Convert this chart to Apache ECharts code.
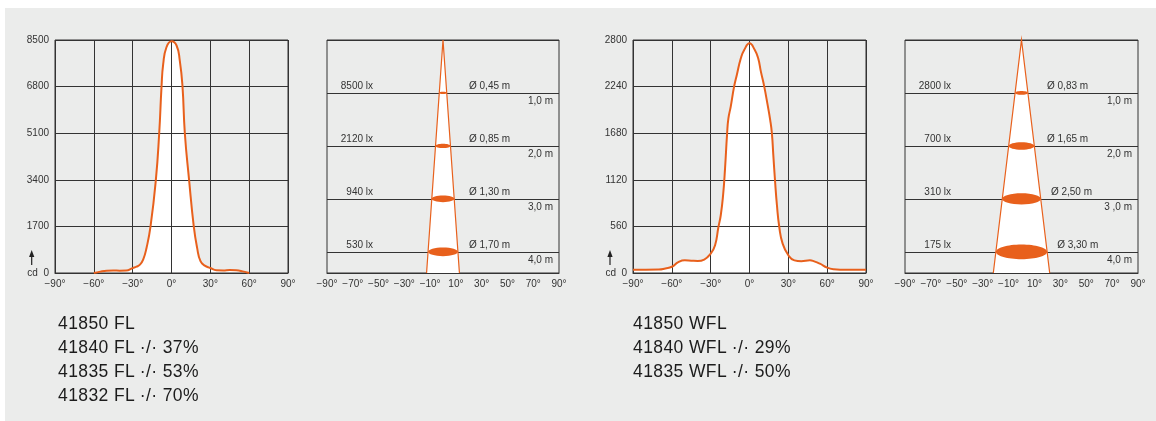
<!DOCTYPE html>
<html>
<head>
<meta charset="utf-8">
<script src="https://cdn.jsdelivr.net/npm/echarts@6/dist/echarts.min.js"></script>
<style>
  html, body { margin: 0; padding: 0; background: #fff; }
  #wrap { position: relative; width: 1156px; height: 421px; overflow: hidden; }
  #panel { position: absolute; left: 5px; top: 8px; right: 0; bottom: 0; background: #ebeceb; }
  #chart { position: absolute; left: 0; top: 0; width: 1156px; height: 421px; }
  .models { position: absolute; top: 311px; font: 17.5px "Liberation Sans", Arial, sans-serif; letter-spacing: 0.4px; line-height: 24px; color: #1c1c1c; }
</style>
</head>
<body>
<div id="wrap">
  <div id="panel"></div>
  <div id="chart"></div>
  <div class="models" id="modelsFL" style="left:58px"></div>
  <div class="models" id="modelsWFL" style="left:633px"></div>
</div>
<script>
// luminous intensity curves (angle in degrees, candela)
const flAngle = [-60, -55, -50, -45, -40, -35, -30, -27, -24.4, -21.9, -19.3, -16.2, -12.1, -9.5, -7.7, -6.4, -3.9, 0,
  3.9, 6.4, 8.5, 10.3, 13.6, 17.2, 19.8, 22.4, 25.7, 30, 34.7, 40, 45, 50, 55, 60];
const flCd = [0, 50, 85, 95, 85, 90, 180, 230, 305, 490, 915, 1700, 3390, 5100, 6800, 7625, 8235, 8450,
  8300, 7750, 6800, 5100, 3390, 1700, 915, 430, 268, 183, 100, 95, 110, 100, 60, 0];

const wflAngle = [-90, -80, -70, -65, -60, -55, -50, -45, -40, -35, -30, -26.6, -24, -22.2, -20.4, -18.9, -17.3, -16.3,
  -14.5, -11.9, -9.8, -6.7, -4.1, 0, 4.1, 6.7, 8.8, 11.4, 14, 16, 17.3, 18.4, 19.7, 21.2, 23, 25.6, 30, 34.7, 40,
  46.7, 50, 54.4, 60, 65, 70, 80, 90];
const wflCd = [40, 40, 42, 55, 75, 130, 152, 148, 145, 162, 233, 333, 553, 694, 935, 1255, 1677, 1857,
  2000, 2240, 2380, 2580, 2680, 2760, 2680, 2580, 2420, 2240, 2020, 1837, 1677, 1416, 1115, 814, 553, 353, 213, 152, 142,
  152, 140, 112, 65, 45, 40, 40, 40];

// beam diagrams: distance, illuminance, beam diameter
const beamDepth = [1, 2, 3, 4];
const flLux = [8500, 2120, 940, 530];
const flDiam = [0.45, 0.85, 1.30, 1.70];
const flDepthLabels = ["1,0 m", "2,0 m", "3,0 m", "4,0 m"];
const wflLux = [2800, 700, 310, 175];
const wflDiam = [0.83, 1.65, 2.50, 3.30];
const wflDepthLabels = ["1,0 m", "2,0 m", "3 ,0 m", "4,0 m"];

const flModels = ["41850 FL", "41840 FL ·/· 37%", "41835 FL ·/· 53%", "41832 FL ·/· 70%"];
const wflModels = ["41850 WFL", "41840 WFL ·/· 29%", "41835 WFL ·/· 50%"];

document.getElementById("modelsFL").innerHTML = flModels.map((t) => `<div>${t}</div>`).join("");
document.getElementById("modelsWFL").innerHTML = wflModels.map((t) => `<div>${t}</div>`).join("");

const ORANGE = "#e8601c";
const LINE = "#333";
const TEXT = "#333";
const NARROW = '"Liberation Sans Narrow", "Liberation Sans", Arial, sans-serif';
const SMALL_FONT = `10px ${NARROW}`;
const DEPTH_MAX = 4.4;

const degLabel = (v) => (v < 0 ? "\u2212" + Math.abs(v) : v) + "°";
const pairs = (xs, ys) => xs.map((x, i) => [x, ys[i]]);

function angleAxis(gridIndex, interval){
  return {
    gridIndex, type: "value", min: -90, max: 90, interval,
    axisLine: { show: true, onZero: false, lineStyle: { color: LINE, width: 1 } },
    axisTick: { show: false },
    axisLabel: { formatter: degLabel, margin: 6, color: TEXT, fontFamily: NARROW, fontSize: 10 },
    splitLine: { show: interval === 30, lineStyle: { color: LINE, width: 1 } }
  };
}

function lateralAxis(gridIndex, range){
  return { gridIndex, type: "value", min: -range, max: range, show: false, splitLine: { show: false } };
}

function cdAxis(gridIndex, max, interval){
  return {
    gridIndex, type: "value", min: 0, max, interval,
    axisLine: { show: false, onZero: false },
    axisTick: { show: false },
    axisLabel: { formatter: (v) => String(v), margin: 6, color: TEXT, fontFamily: NARROW, fontSize: 10 },
    splitLine: { show: true, lineStyle: { color: LINE, width: 1 } }
  };
}

function depthAxis(gridIndex){
  return {
    gridIndex, type: "value", min: 0, max: DEPTH_MAX, interval: 1, inverse: true,
    axisLine: { show: false, onZero: false },
    axisTick: { show: false },
    axisLabel: { show: false },
    splitLine: { show: true, lineStyle: { color: LINE, width: 1 } }
  };
}

function curveSeries(xIdx, yIdx, xs, ys){
  const data = pairs(xs, ys);
  const common = { type: "line", xAxisIndex: xIdx, yAxisIndex: yIdx, data, smooth: 0.5, showSymbol: false, silent: true };
  return [
    { ...common, z: -1, lineStyle: { width: 0 }, areaStyle: { color: "#fff", opacity: 1 } },
    { ...common, z: 3, lineStyle: { width: 2, color: ORANGE } }
  ];
}

function coneSeries(xIdx, yIdx, diams){
  const last = beamDepth.length - 1;
  return {
    type: "custom", xAxisIndex: xIdx, yAxisIndex: yIdx, silent: true,
    data: [[0, 0]],
    renderItem: (params, api) => {
      const half = diams[last] / 2 * DEPTH_MAX / beamDepth[last];
      const apex = api.coord([0, 0]);
      const bl = api.coord([-half, DEPTH_MAX]);
      const br = api.coord([half, DEPTH_MAX]);
      return {
        type: "group",
        children: [
          { type: "polygon", shape: { points: [apex, bl, br] }, style: { fill: "#fff" } },
          { type: "polyline", shape: { points: [bl, apex, br] }, style: { fill: null, stroke: ORANGE, lineWidth: 1.2 } }
        ]
      };
    }
  };
}

function beamSeries(xIdx, yIdx, diams, lux, depthLabels){
  return {
    type: "custom", xAxisIndex: xIdx, yAxisIndex: yIdx, silent: true,
    data: beamDepth.map((d) => [0, d]),
    renderItem: (params, api) => {
      const i = params.dataIndex;
      const c = api.coord([0, api.value(1)]);
      const rx = api.size([diams[i] / 2, 0])[0];
      const ry = rx * 0.29;
      const g = params.coordSys;
      const txt = (text, x, y, align) => ({
        type: "text", x, y,
        style: { text, font: SMALL_FONT, fill: TEXT, align, verticalAlign: "middle" }
      });
      return {
        type: "group",
        children: [
          { type: "ellipse", shape: { cx: c[0], cy: c[1], rx, ry }, style: { fill: ORANGE } },
          txt(lux[i] + " lx", g.x + 46, c[1] - 7, "right"),
          txt("Ø " + diams[i].toFixed(2).replace(".", ",") + " m", Math.max(g.x + 142, c[0] + rx + 10), c[1] - 7, "left"),
          txt(depthLabels[i], g.x + g.width - 6, c[1] + 8, "right")
        ]
      };
    }
  };
}

function cdMarker(x){
  return [
    { type: "text", x: x - 4.5, y: 273, style: { text: "cd", font: SMALL_FONT, fill: TEXT, verticalAlign: "middle" } },
    { type: "line", shape: { x1: x, y1: 265, x2: x, y2: 254 }, style: { stroke: "#222", lineWidth: 1.2 } },
    { type: "polygon", shape: { points: [[x, 250], [x - 2.6, 257], [x + 2.6, 257]] }, style: { fill: "#222" } }
  ];
}

const gridBase = { top: 40, height: 233, show: true, borderColor: LINE, borderWidth: 1, backgroundColor: "transparent" };

const chart = echarts.init(document.getElementById("chart"), null, { renderer: "canvas" });
chart.setOption({
  animation: false,
  backgroundColor: "transparent",
  grid: [
    { ...gridBase, left: 55, width: 233 },
    { ...gridBase, left: 327, width: 232 },
    { ...gridBase, left: 633, width: 233 },
    { ...gridBase, left: 905, width: 233 }
  ],
  xAxis: [
    angleAxis(0, 30),
    angleAxis(1, 20),
    lateralAxis(1, 6.6),
    angleAxis(2, 30),
    angleAxis(3, 20),
    lateralAxis(3, 7.5)
  ],
  yAxis: [
    cdAxis(0, 8500, 1700),
    depthAxis(1),
    cdAxis(2, 2800, 560),
    depthAxis(3)
  ],
  graphic: [...cdMarker(31.7), ...cdMarker(610)],
  series: [
    ...curveSeries(0, 0, flAngle, flCd),
    coneSeries(2, 1, flDiam),
    beamSeries(2, 1, flDiam, flLux, flDepthLabels),
    ...curveSeries(3, 2, wflAngle, wflCd),
    coneSeries(5, 3, wflDiam),
    beamSeries(5, 3, wflDiam, wflLux, wflDepthLabels)
  ]
});
</script>
</body>
</html>
